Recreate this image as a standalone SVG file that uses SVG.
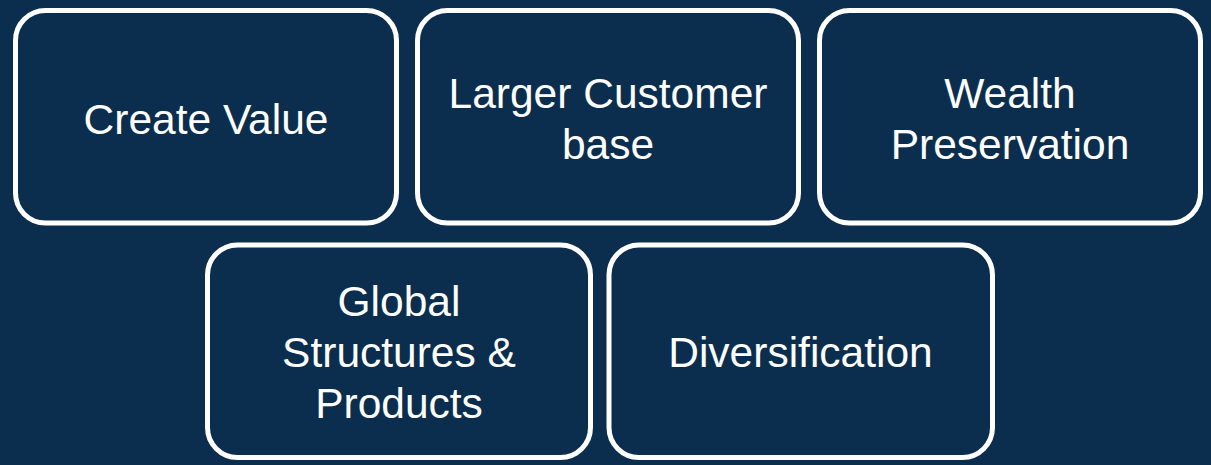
<svg xmlns="http://www.w3.org/2000/svg" width="1211" height="465" viewBox="0 0 1211 465">
<style>
.box{fill:#0b2e4e;stroke:#ffffff;stroke-width:5}
.t{font-family:"Liberation Sans",Arial,sans-serif;font-size:42.5px;fill:#ffffff;text-anchor:middle}
</style>
<rect x="0" y="0" width="1211" height="465" fill="#0b2e4e"/>
<g id="connectors"/>
<g id="node-create-value">
<rect class="box" x="15.5" y="10.5" width="381" height="212.5" rx="30" ry="30"/>
<text class="t" x="206" y="134">Create Value</text>
</g>
<g id="node-larger-customer-base">
<rect class="box" x="417.5" y="10.5" width="381" height="212.5" rx="30" ry="30"/>
<text class="t" x="608" y="107.5">Larger Customer</text>
<text class="t" x="608" y="158.5">base</text>
</g>
<g id="node-wealth-preservation">
<rect class="box" x="819.5" y="10.5" width="381" height="212.5" rx="30" ry="30"/>
<text class="t" x="1010" y="107.5">Wealth</text>
<text class="t" x="1010" y="158.5">Preservation</text>
</g>
<g id="node-global-structures">
<rect class="box" x="207.5" y="245" width="383" height="212.5" rx="30" ry="30"/>
<text class="t" x="399" y="316">Global</text>
<text class="t" x="399" y="367">Structures &amp;</text>
<text class="t" x="399" y="418">Products</text>
</g>
<g id="node-diversification">
<rect class="box" x="609" y="245" width="383.5" height="212.5" rx="30" ry="30"/>
<text class="t" x="800.5" y="367">Diversification</text>
</g>
</svg>
